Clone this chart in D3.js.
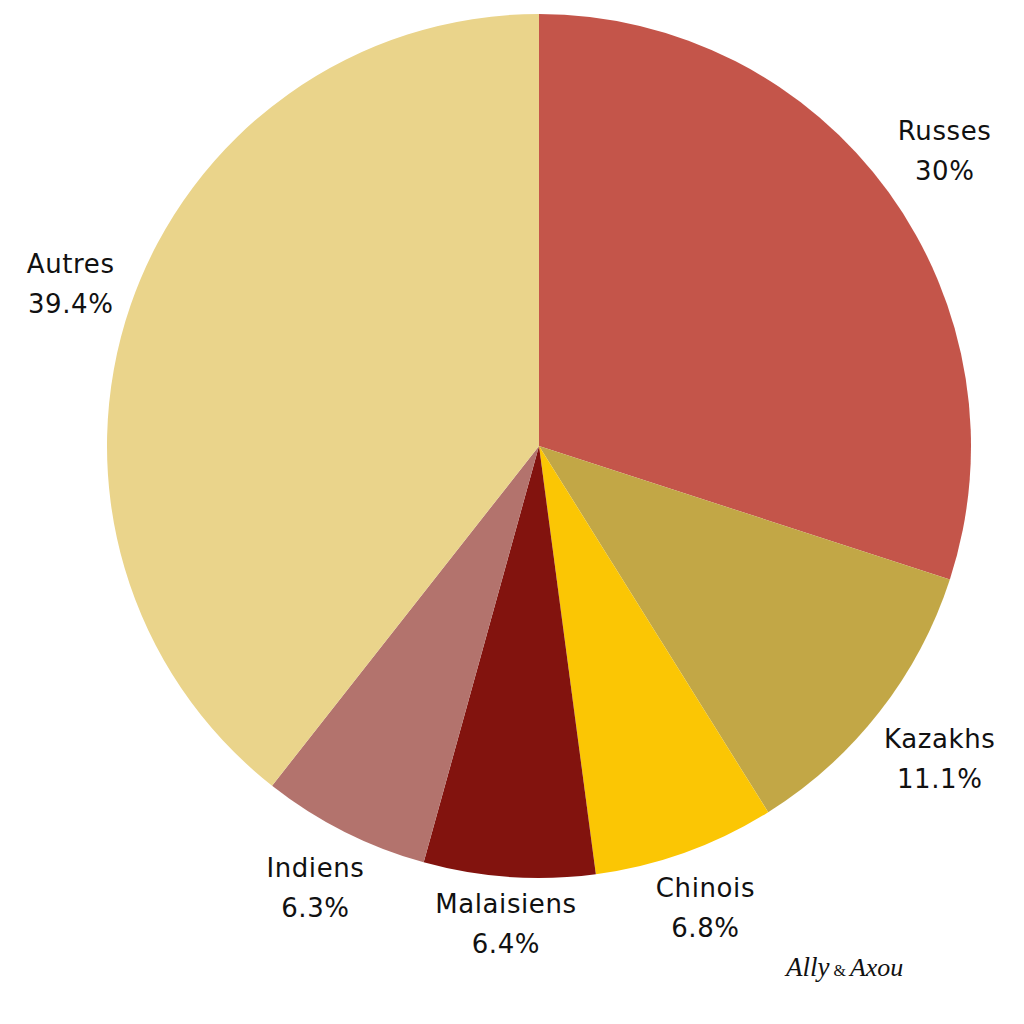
<!DOCTYPE html>
<html><head><meta charset="utf-8">
<script src="https://cdn.jsdelivr.net/npm/d3@7"></script>
<style>html,body{margin:0;padding:0;background:#fff;}</style>
</head><body>
<svg id="chart" width="1024" height="1024"></svg>
<script>
const categories = ["Russes", "Kazakhs", "Chinois", "Malaisiens", "Indiens", "Autres"];
const values = [30, 11.1, 6.8, 6.4, 6.3, 39.4];
const valueLabels = ["30%", "11.1%", "6.8%", "6.4%", "6.3%", "39.4%"];
const colors = ["#C4554A", "#C2A746", "#FBC604", "#82130E", "#B3736D", "#EAD48B"];

const svg = d3.select("#chart");
const cx = 539, cy = 446, R = 432, gap = 11;
const data = categories.map((c, i) => ({cat: c, value: values[i], label: valueLabels[i], color: colors[i]}));
const pie = d3.pie().sort(null).value(d => d.value);
const arc = d3.arc().innerRadius(0).outerRadius(R);
const arcs = pie(data);
const g = svg.append("g").attr("transform", `translate(${cx},${cy})`);
g.selectAll("path").data(arcs).join("path").attr("d", arc).attr("fill", d => d.data.color);

const lineH = 40, fs = 26;
arcs.forEach(a => {
  const mid = (a.startAngle + a.endAngle) / 2;
  const ux = Math.sin(mid), uy = -Math.cos(mid);
  const t = g.append("text").attr("text-anchor", "middle")
    .style("font-family", "'DejaVu Sans', sans-serif").style("font-size", fs + "px")
    .style("letter-spacing", "0.6px").attr("fill", "#111");
  t.append("tspan").attr("x", 0).attr("y", 0).text(a.data.cat);
  t.append("tspan").attr("x", 0).attr("y", lineH).text(a.data.label);
  const bb = t.node().getBBox();
  const minDist = (d) => {
    const ox = ux * d, oy = uy * d;
    const x0 = ox + bb.x, x1 = x0 + bb.width;
    const y0 = oy - bb.height / 2, y1 = y0 + bb.height;
    const nx = Math.max(x0, Math.min(0, x1)), ny = Math.max(y0, Math.min(0, y1));
    return Math.hypot(nx, ny);
  };
  let lo = 0, hi = 1000;
  for (let k = 0; k < 60; k++) { const m = (lo + hi) / 2; if (minDist(m) < R + gap) lo = m; else hi = m; }
  const ox = ux * hi, oy = uy * hi;
  t.attr("transform", `translate(${ox},${oy - bb.height / 2 - bb.y})`);
});

const sig = svg.append("text").attr("x", 786).attr("y", 976)
  .style("font-family", "'Liberation Serif', serif").style("font-style", "italic").attr("fill", "#111");
sig.append("tspan").style("font-size", "27px").text("Ally");
sig.append("tspan").style("font-size", "16px").style("font-style", "normal").text(" & ");
sig.append("tspan").style("font-size", "26px").text("Axou");
</script>
</body></html>
